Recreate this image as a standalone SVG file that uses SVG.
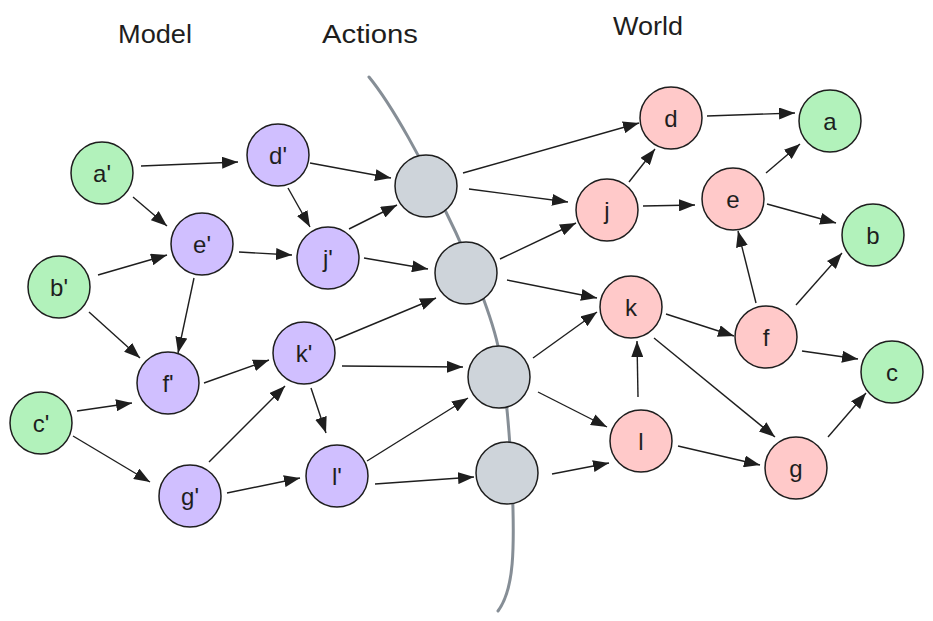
<svg xmlns="http://www.w3.org/2000/svg" width="933" height="621" viewBox="0 0 933 621">
<style>
.n{stroke:#1e1e1e;stroke-width:1.5}
.g{fill:#b2f2bb}.p{fill:#d0bfff}.r{fill:#ffc9c9}.a{fill:#ced4da}
.t{font-family:"Liberation Sans",Arial,sans-serif;font-size:24px;fill:#1e1e1e;text-anchor:middle}
.h{font-family:"Liberation Sans",Arial,sans-serif;font-size:25px;fill:#1e1e1e}
#edges line{stroke:#1e1e1e;stroke-width:1.4;marker-end:url(#ah)}
</style>
<defs>
<marker id="ah" markerUnits="userSpaceOnUse" markerWidth="16" markerHeight="12" refX="16" refY="6" orient="auto">
<path d="M0,0 L16,6 L0,12 z" fill="#1e1e1e"/>
</marker>
</defs>
<rect width="933" height="621" fill="#ffffff"/>
<g id="titles">
<text class="h" x="118" y="43" textLength="74" lengthAdjust="spacingAndGlyphs">Model</text>
<text class="h" x="322" y="43" textLength="96" lengthAdjust="spacingAndGlyphs">Actions</text>
<text class="h" x="613" y="35" textLength="70" lengthAdjust="spacingAndGlyphs">World</text>
</g>
<path id="divider" d="M369,77 C392,105 425,165 445,210 C465,250 490,310 498,346 C506,385 510,440 512,480 C515,550 514,590 498,611" fill="none" stroke="#868e96" stroke-width="3" stroke-linecap="round"/>
<g id="edges">
<line x1="141" y1="166" x2="238" y2="162"/>
<line x1="133" y1="197" x2="167" y2="226"/>
<line x1="310" y1="163" x2="391" y2="178"/>
<line x1="288" y1="188" x2="310" y2="227"/>
<line x1="98" y1="275" x2="167" y2="255"/>
<line x1="239" y1="252" x2="292" y2="255"/>
<line x1="349" y1="229" x2="397" y2="205"/>
<line x1="364" y1="258" x2="428" y2="269"/>
<line x1="194" y1="278" x2="178" y2="353"/>
<line x1="89" y1="312" x2="140" y2="358"/>
<line x1="77" y1="411" x2="132" y2="403"/>
<line x1="204" y1="383" x2="269" y2="360"/>
<line x1="73" y1="436" x2="150" y2="482"/>
<line x1="209" y1="462" x2="285" y2="386"/>
<line x1="227" y1="493" x2="300" y2="478"/>
<line x1="311" y1="388" x2="326" y2="433"/>
<line x1="335" y1="340" x2="436" y2="298"/>
<line x1="342" y1="366" x2="463" y2="367"/>
<line x1="367" y1="461" x2="468" y2="398"/>
<line x1="375" y1="484" x2="474" y2="477"/>
<line x1="463" y1="173" x2="639" y2="123"/>
<line x1="469" y1="189" x2="568" y2="202"/>
<line x1="500" y1="259" x2="576" y2="223"/>
<line x1="507" y1="280" x2="597" y2="298"/>
<line x1="629" y1="182" x2="655" y2="149"/>
<line x1="643" y1="206" x2="695" y2="205"/>
<line x1="707" y1="116" x2="795" y2="113"/>
<line x1="766" y1="173" x2="800" y2="144"/>
<line x1="767" y1="204" x2="836" y2="223"/>
<line x1="756" y1="303" x2="738" y2="231"/>
<line x1="796" y1="305" x2="842" y2="253"/>
<line x1="533" y1="358" x2="597" y2="312"/>
<line x1="538" y1="392" x2="607" y2="427"/>
<line x1="552" y1="474" x2="609" y2="463"/>
<line x1="638" y1="397" x2="637" y2="341"/>
<line x1="666" y1="314" x2="734" y2="336"/>
<line x1="654" y1="338" x2="775" y2="437"/>
<line x1="678" y1="446" x2="760" y2="465"/>
<line x1="802" y1="351" x2="858" y2="359"/>
<line x1="828" y1="437" x2="866" y2="393"/>
</g>
<g id="n-a1"><circle class="n g" cx="102" cy="173" r="31"/><text class="t" x="102" y="182">a'</text></g>
<g id="n-b1"><circle class="n g" cx="59" cy="287" r="31"/><text class="t" x="59" y="296">b'</text></g>
<g id="n-c1"><circle class="n g" cx="41" cy="423" r="31"/><text class="t" x="41" y="432">c'</text></g>
<g id="n-d1"><circle class="n p" cx="278" cy="155" r="31"/><text class="t" x="278" y="164">d'</text></g>
<g id="n-e1"><circle class="n p" cx="202" cy="244" r="31"/><text class="t" x="202" y="253">e'</text></g>
<g id="n-f1"><circle class="n p" cx="168" cy="383" r="31"/><text class="t" x="168" y="392">f'</text></g>
<g id="n-g1"><circle class="n p" cx="190" cy="496" r="31"/><text class="t" x="190" y="505">g'</text></g>
<g id="n-j1"><circle class="n p" cx="328" cy="258" r="31"/><text class="t" x="328" y="267">j'</text></g>
<g id="n-k1"><circle class="n p" cx="304" cy="353" r="31"/><text class="t" x="304" y="362">k'</text></g>
<g id="n-l1"><circle class="n p" cx="337" cy="476" r="31"/><text class="t" x="337" y="485">l'</text></g>
<g id="act1"><circle class="n a" cx="426" cy="186" r="31"/></g>
<g id="act2"><circle class="n a" cx="466" cy="273" r="31"/></g>
<g id="act3"><circle class="n a" cx="499" cy="377" r="31"/></g>
<g id="act4"><circle class="n a" cx="507" cy="473" r="31"/></g>
<g id="n-d"><circle class="n r" cx="671" cy="118" r="31"/><text class="t" x="671" y="127">d</text></g>
<g id="n-j"><circle class="n r" cx="607" cy="210" r="31"/><text class="t" x="607" y="219">j</text></g>
<g id="n-e"><circle class="n r" cx="733" cy="199" r="31"/><text class="t" x="733" y="208">e</text></g>
<g id="n-k"><circle class="n r" cx="631" cy="307" r="31"/><text class="t" x="631" y="316">k</text></g>
<g id="n-f"><circle class="n r" cx="766" cy="337" r="31"/><text class="t" x="766" y="346">f</text></g>
<g id="n-l"><circle class="n r" cx="641" cy="441" r="31"/><text class="t" x="641" y="450">l</text></g>
<g id="n-g"><circle class="n r" cx="796" cy="468" r="31"/><text class="t" x="796" y="477">g</text></g>
<g id="n-a"><circle class="n g" cx="830" cy="121" r="31"/><text class="t" x="830" y="130">a</text></g>
<g id="n-b"><circle class="n g" cx="873" cy="235" r="31"/><text class="t" x="873" y="244">b</text></g>
<g id="n-c"><circle class="n g" cx="892" cy="372" r="31"/><text class="t" x="892" y="381">c</text></g>
</svg>
